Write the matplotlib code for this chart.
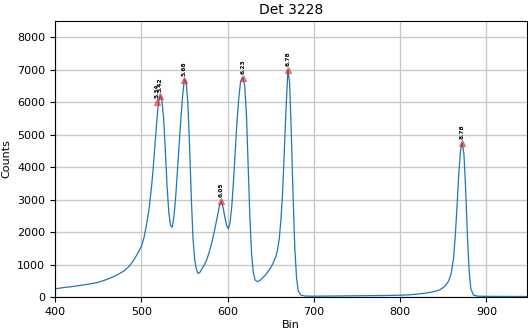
import matplotlib
matplotlib.use("Agg")
import matplotlib.pyplot as plt

# Spectrum (bin, counts)
bins = [400, 410, 420, 430, 440, 450, 460, 470, 480, 485, 490, 495, 500, 503, 506, 509, 512,
        514, 516, 518, 520, 522, 524, 526, 528, 530, 532, 534, 536, 538, 540, 542, 544, 546,
        548, 550, 552, 554, 556, 558, 560, 562, 564, 566, 568, 570, 573, 576, 579, 582, 585,
        588, 591, 593, 595, 597, 599, 601, 603, 605, 607, 609, 611, 613, 615, 617, 618, 620,
        622, 624, 626, 628, 630, 632, 635, 638, 641, 644, 647, 650, 653, 656, 658, 660, 662,
        664, 666, 668, 670, 672, 674, 676, 678, 680, 682, 685, 690, 700, 720, 740, 760, 780,
        800, 810, 820, 830, 840, 846, 852, 856, 859, 862, 864, 866, 868, 870, 872, 874, 876,
        878, 880, 882, 885, 890, 900, 920, 950]
counts = [250, 290, 320, 360, 400, 450, 540, 650, 800, 920, 1080, 1300, 1550, 1800, 2200, 2700, 3400,
          4000, 4700, 5400, 6000, 6200, 6050, 5500, 4500, 3400, 2600, 2200, 2150, 2500, 3100, 3900, 4700, 5500,
          6200, 6700, 6650, 6000, 4700, 3100, 1800, 1150, 850, 720, 760, 850, 980, 1150, 1400, 1700, 2050,
          2450, 2850, 2950, 2750, 2450, 2200, 2100, 2300, 2800, 3600, 4500, 5400, 6100, 6600, 6750, 6750, 6500,
          5600, 4000, 2400, 1300, 750, 520, 470, 520, 600, 680, 780, 900, 1050, 1250, 1450, 1800, 2400,
          3300, 4600, 5900, 7000, 6600, 5000, 3100, 1500, 600, 180, 60, 30, 25, 30, 35, 40, 45,
          55, 65, 90, 120, 170, 220, 330, 480, 700, 1200, 1900, 2800, 3800, 4500, 4750, 4400, 3300,
          1900, 800, 250, 60, 25, 20, 18, 15]

# Identified peaks
peak_bins = [518, 522, 550, 593, 618, 670, 872]
peak_counts = [6000, 6200, 6700, 2950, 6750, 7000, 4750]
peak_labels = ["5.34", "5.42", "5.68", "6.05", "6.23", "6.78", "8.78"]

fig = plt.figure(figsize=(5.28, 3.3), dpi=100)
ax = fig.add_axes([0.104, 0.1, 0.894, 0.836])
ax.plot(bins, counts, color="#1f77b4", linewidth=0.9)
ax.plot(peak_bins, peak_counts, "^", color="#d62728", alpha=0.5, markersize=5)
for b, c, lab in zip(peak_bins, peak_counts, peak_labels):
    ax.text(b, c + 120, lab, rotation=90, fontsize=4.2, fontweight="bold",
            ha="center", va="bottom")

ax.set_xlim(400, 947)
ax.set_ylim(0, 8500)
ax.set_xticks([400, 500, 600, 700, 800, 900])
ax.set_yticks(range(0, 8001, 1000))
ax.grid(True, color="#c8c8c8", linewidth=1.0)
ax.set_axisbelow(True)
ax.tick_params(labelsize=8)
ax.set_xlabel("Bin", fontsize=8, labelpad=2)
ax.set_ylabel("Counts", fontsize=8)
ax.set_title("Det 3228", fontsize=10, pad=5)

fig.savefig("out.png", dpi=100)
